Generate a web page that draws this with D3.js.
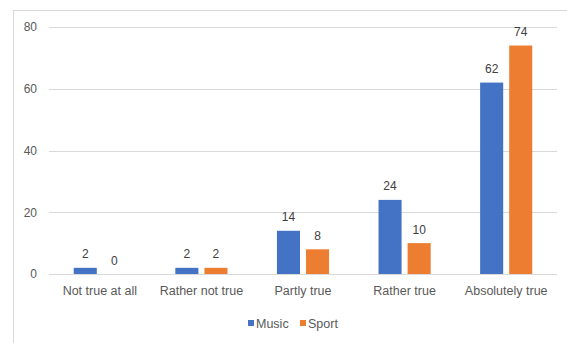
<!DOCTYPE html>
<html><head><meta charset="utf-8">
<script src="https://cdn.jsdelivr.net/npm/d3@7"></script>
<style>
html,body{margin:0;padding:0;background:#fff;}
svg{display:block;font-family:"Liberation Sans",Arial,sans-serif;}
</style></head>
<body>
<svg id="c" width="567" height="343"></svg>
<script>
const categories = ["Not true at all","Rather not true","Partly true","Rather true","Absolutely true"];
const seriesNames = ["Music","Sport"];
const music = [2,2,14,24,62];
const sport = [0,2,8,10,74];
const yTicks = [0,20,40,60,80];
const colors = ["#4472C4","#ED7D31"];

const svg = d3.select("#c");
const W = 567, H = 343;
const m = {left:49, right:10, top:27, bottom:69};
const x0 = d3.scaleBand().domain(categories).range([m.left, W - m.right]).paddingInner(0).paddingOuter(0);
const x1 = d3.scaleBand().domain(seriesNames).range([0, x0.bandwidth()]).paddingInner(0.207).paddingOuter(0.85);
const y = d3.scaleLinear().domain([0,80]).range([H - m.bottom, m.top]);

// frame
svg.append("rect").attr("x",13.5).attr("y",10.5).attr("width",W).attr("height",H)
  .attr("fill","none").attr("stroke","#d9d9d9");

// gridlines
svg.append("g").selectAll("line").data(yTicks).join("line")
  .attr("x1", m.left).attr("x2", W - m.right)
  .attr("y1", d => Math.round(y(d)) + 0.5).attr("y2", d => Math.round(y(d)) + 0.5)
  .attr("stroke","#d9d9d9").attr("stroke-width",1);

// y axis labels
const yAxis = d3.axisLeft(y).tickValues(yTicks).tickSize(0).tickPadding(12);
const ga = svg.append("g").attr("transform",`translate(${m.left},0)`).call(yAxis);
ga.select(".domain").remove();
ga.selectAll("text").attr("fill","#595959").attr("font-size","12px").attr("font-family","Liberation Sans, Arial, sans-serif");

// x axis labels
const xAxis = d3.axisBottom(x0).tickSize(0).tickPadding(12);
const gx = svg.append("g").attr("transform",`translate(0,${y(0)})`).call(xAxis);
gx.select(".domain").remove();
gx.selectAll("text").attr("fill","#595959").attr("font-size","12.5px").attr("font-family","Liberation Sans, Arial, sans-serif");

const data = categories.map((c,i) => ({cat:c, vals:[{s:"Music",v:music[i]},{s:"Sport",v:sport[i]}]}));
const groups = svg.append("g").selectAll("g").data(data).join("g")
  .attr("transform", d => `translate(${x0(d.cat)},0)`);
groups.selectAll("rect").data(d => d.vals).join("rect")
  .attr("x", d => x1(d.s)).attr("width", x1.bandwidth())
  .attr("y", d => y(d.v)).attr("height", d => y(0) - y(d.v))
  .attr("fill", (d,i) => colors[i]);
groups.selectAll("text").data(d => d.vals).join("text")
  .attr("x", d => x1(d.s) + x1.bandwidth()/2)
  .attr("y", d => y(d.v) - 9.5)
  .attr("text-anchor","middle").attr("fill","#404040").attr("font-size","12px")
  .text(d => d.v);

// legend
const leg = svg.append("g").attr("transform","translate(0,323)");
const legItems = [{n:"Music",c:colors[0],x:248},{n:"Sport",c:colors[1],x:300}];
legItems.forEach(it => {
  leg.append("rect").attr("x",it.x).attr("y",-3).attr("width",6).attr("height",6).attr("fill",it.c);
  leg.append("text").attr("x",it.x+8).attr("y",4.5).attr("fill","#595959").attr("font-size","12.5px").text(it.n);
});
</script>
</body></html>
